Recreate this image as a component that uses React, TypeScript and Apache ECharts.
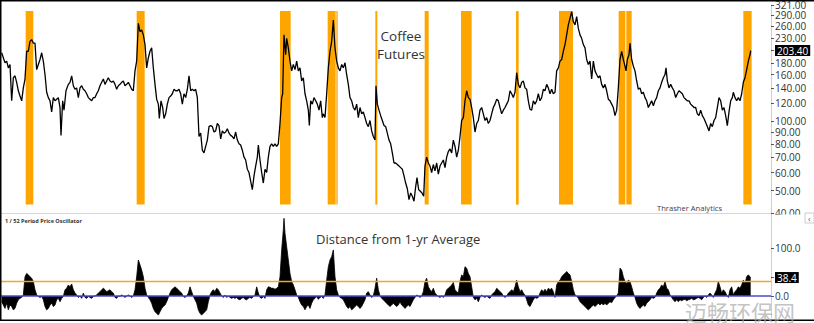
import React, { useEffect, useRef } from 'react';
import * as echarts from 'echarts';

// Coffee futures, weekly index (weeks from chart start) and price
const priceData: [number, number][] = [
  [5,199],[15,180],[20,183],[25,171],[30,177],[35,123],[40,155],[45,158],[50,148],[55,136],[60,129],[65,123],[70,140],[75,153],[80,202],[85,202],[90,223],[95,227],[100,219],[105,219],[110,168],[115,177],[120,186],[125,199],[130,183],[135,160],[140,134],[145,127],[150,123],[155,110],[160,127],[165,123],[170,125],[175,127],[180,115],[183,87],[188,123],[192,112],[198,136],[205,145],[210,148],[215,158],[220,143],[225,138],[230,140],[235,127],[240,140],[245,143],[250,138],[255,136],[260,132],[265,127],[270,125],[275,123],[280,127],[285,127],[290,132],[295,136],[300,143],[305,148],[310,153],[315,145],[320,150],[325,155],[330,150],[335,148],[340,150],[345,145],[350,138],[355,143],[360,145],[365,148],[370,150],[375,143],[380,145],[385,148],[390,143],[395,138],[400,136],[405,166],[410,183],[415,267],[420,246],[425,250],[430,238],[435,216],[440,171],[445,189],[450,202],[455,209],[460,171],[465,145],[470,125],[475,119],[478,103],[483,123],[488,115],[492,103],[497,108],[502,119],[507,127],[512,129],[517,132],[522,138],[527,136],[532,136],[537,138],[542,132],[547,119],[552,132],[557,127],[562,138],[567,158],[572,136],[577,138],[582,136],[587,138],[592,127],[597,86],[602,89],[607,75],[612,73],[617,78],[622,83],[627,95],[632,96],[637,95],[642,90],[647,91],[652,98],[657,96],[662,84],[667,91],[672,89],[677,90],[682,93],[687,89],[692,87],[697,86],[702,84],[707,90],[712,83],[717,80],[722,79],[727,75],[732,70],[737,68],[742,62],[747,60],[752,55],[757,50.5],[762,58],[767,64],[772,70],[775,79],[780,68],[785,60],[790,54],[795,62],[800,60],[805,70],[810,78],[815,80],[820,78],[825,80],[830,78],
  [835,80],[840,98],[845,127],[848,132],[852,238],[857,195],[860,230],[865,209],[870,183],[875,166],[880,177],[885,168],[890,183],[895,166],[900,171],[905,150],[910,155],[915,132],[920,123],[925,112],[928,96],[932,123],[937,119],[942,127],[947,123],[952,119],[957,112],[962,123],[967,104],[970,108],[975,104],[980,132],[985,171],[990,202],[995,223],[1000,276],[1005,209],[1010,183],[1015,171],[1020,166],[1025,177],[1030,171],[1035,180],[1040,160],[1045,145],[1050,127],[1055,123],[1060,115],[1065,112],[1070,119],[1075,104],[1080,115],[1085,108],[1090,110],[1095,104],[1100,98],[1105,95],[1110,101],[1115,91],[1120,86],[1125,83],[1128,143],[1132,119],[1137,112],[1142,106],[1147,101],[1152,96],[1157,95],[1162,89],[1167,83],[1172,80],[1177,73],[1182,66],[1187,66],[1192,65],[1197,64],[1202,63],[1207,62],[1212,58],[1217,54],[1222,51],[1227,45.7],[1232,48.9],[1237,47.3],[1242,45],[1247,52],[1251,57],[1256,50.5],[1261,49.7],[1266,48.9],[1271,47.3],[1275,64],[1280,70],[1285,66],[1290,64],[1295,60],[1300,65],[1305,61],[1310,66],[1315,59],[1320,64],[1325,66],[1330,68],[1335,63],[1340,70],[1345,74],[1350,76],[1355,73],[1360,83],[1365,78],[1370,70],[1375,75],[1380,86],[1385,101],[1390,104],[1395,123],[1400,136],[1405,127],[1410,125],[1415,115],[1420,104],[1425,90],[1430,98],[1435,101],[1440,112],[1445,115],[1450,108],[1455,101],[1460,104],[1465,98],[1470,101],[1475,108],[1480,115],[1485,119],[1490,125],[1495,123],[1500,115],[1505,108],[1510,112],[1515,115],[1520,119],[1525,123],[1530,136],[1535,132],[1540,127],[1545,134],[1550,163],[1555,145],[1560,140],[1565,148],[1570,150],[1575,140],[1580,138],[1585,123],[1590,113],[1595,112],[1600,123],[1605,119],[1610,123],[1615,132],
  [1620,123],[1625,127],[1630,138],[1635,136],[1640,145],[1645,140],[1650,132],[1655,138],[1660,132],[1665,134],[1670,166],[1675,171],[1680,183],[1685,186],[1690,202],[1695,216],[1700,238],[1705,263],[1710,281],[1715,300],[1720,272],[1725,263],[1730,286],[1735,254],[1740,238],[1745,230],[1750,216],[1755,209],[1760,186],[1765,177],[1770,183],[1775,153],[1780,183],[1785,166],[1790,160],[1795,155],[1800,158],[1805,145],[1810,140],[1815,145],[1820,136],[1825,125],[1830,123],[1835,119],[1840,115],[1845,106],[1850,112],[1855,140],[1860,186],[1865,202],[1870,186],[1875,174],[1878,166],[1882,186],[1887,195],[1890,219],[1895,186],[1900,174],[1905,166],[1910,150],[1915,138],[1920,140],[1925,132],[1930,134],[1935,127],[1940,123],[1945,115],[1950,119],[1955,123],[1960,117],[1965,123],[1970,127],[1975,136],[1980,140],[1985,148],[1990,155],[1995,160],[1998,171],[2002,150],[2007,140],[2012,145],[2017,140],[2022,136],[2027,127],[2032,132],[2037,136],[2042,134],[2047,132],[2052,127],[2057,125],[2062,123],[2067,123],[2072,119],[2077,117],[2082,115],[2087,115],[2092,108],[2097,106],[2102,112],[2107,106],[2112,103],[2117,99],[2122,95],[2127,91],[2132,98],[2137,95],[2142,101],[2147,104],[2152,115],[2157,127],[2162,123],[2167,112],[2172,115],[2177,106],[2182,96],[2187,110],[2192,123],[2197,127],[2200,134],[2205,127],[2210,123],[2215,127],[2220,123],[2225,132],[2230,148],[2235,155],[2240,168],[2245,183],[2250,195],[2252,203.4]
];

// 1/52 period price oscillator (% distance from 1-yr average), same weekly index
const oscData: [number, number][] = [
  [5,-12],[10,-19],[15,-26],[20,-15],[25,-29],[30,-19],[35,-22],[40,-29],[45,-26],[50,-15],[55,-8],[60,-5],[65,-3],[70,2],[75,40],[80,47],[85,44],[90,40],[95,37],[100,30],[105,13],[110,2],[115,-1],[120,-3],[125,-1],[130,-8],[135,-22],[140,-29],[145,-26],[150,-19],[155,-15],[160,-22],[165,-19],[170,-8],[175,-5],[180,-12],[185,-5],[190,-1],[195,13],[200,16],[205,23],[210,19],[215,25],[220,13],[225,6],[230,2],[235,-3],[240,0],[245,-5],[250,6],[255,-3],[260,-5],[265,-1],[270,-3],[275,-5],[280,-1],[285,0],[290,2],[295,6],[300,9],[305,13],[310,16],[315,13],[320,9],[325,11],[330,13],[335,9],[340,6],[345,-3],[350,-5],[355,0],[360,-1],[365,2],[370,0],[375,-3],[380,0],[385,2],[390,0],[395,-3],[400,0],[405,13],[410,40],[415,75],[420,65],[425,54],[430,40],[435,16],[440,2],[445,-3],[450,-8],[455,-15],[460,-26],[465,-33],[470,-36],[475,-40],[480,-33],[485,-26],[490,-22],[495,-19],[500,-12],[505,-3],[510,6],[515,13],[520,16],[525,19],[530,16],[535,13],[540,9],[545,6],[550,-1],[555,-3],[560,0],[565,6],[570,19],[575,9],[580,-1],[585,-8],[590,-15],[595,-29],[600,-36],[605,-40],[610,-36],[615,-33],[620,-29],[625,-12],[630,2],[635,9],[640,13],[645,9],[650,16],[655,13],[660,6],[665,0],[670,-3],[675,2],[680,-3],[685,0],[690,-3],[695,-5],[700,-3],[705,-5],[710,-3],[715,-7],[720,-8],[725,-5],[730,-3],[735,-7],[740,-8],[745,-5],[750,-3],[755,-5],[760,-1],[765,2],[770,19],[775,6],[780,-3],[785,-5],[790,-1],[795,-5],[800,13],[805,19],[810,18],[815,16],[820,16],[825,14],[830,16],[835,19],[840,40],[845,96],[850,138],[852,162],[855,131],[860,103],[865,75],[870,47],[875,30],[880,23],[885,13],[890,2],[895,-3],[900,-12],[905,-19],[910,-22],[915,-29],[920,-22],[925,-19],[930,-26],[935,-15],[940,-8],[945,-5],[950,-1],[955,-7],[960,-3],[965,-1],[970,-5],[975,2],[980,33],[985,61],[990,75],[995,82],[1000,96],[1005,40],[1010,13],[1015,2],[1020,-3],[1025,-5],[1030,-8],[1035,-15],[1040,-22],[1045,-26],[1050,-22],[1055,-29],[1060,-26],[1065,-22],[1070,-19],[1075,-22],[1080,-26],[1085,-22],[1090,-15],[1095,-8],[1100,6],[1105,9],[1110,2],[1115,-3],[1120,0],[1125,16],[1130,37],[1135,13],[1140,0],[1145,-5],[1150,-8],[1155,-12],[1160,-15],[1165,-19],[1170,-22],[1175,-19],[1180,-15],[1185,-19],[1190,-22],[1195,-19],
  [1200,-12],[1205,-19],[1210,-22],[1215,-26],[1220,-22],[1225,-19],[1230,-22],[1235,-15],[1240,-8],[1245,-3],[1250,2],[1255,0],[1260,-3],[1265,0],[1270,9],[1275,30],[1280,37],[1285,19],[1290,13],[1295,9],[1300,16],[1305,6],[1310,2],[1315,-1],[1320,-3],[1325,0],[1330,-3],[1335,2],[1340,13],[1345,16],[1350,19],[1355,23],[1360,28],[1365,13],[1370,9],[1375,6],[1380,30],[1385,44],[1390,40],[1395,61],[1400,58],[1405,47],[1410,40],[1415,19],[1420,-3],[1425,-8],[1430,-5],[1435,-12],[1440,-3],[1445,2],[1450,-1],[1455,-3],[1460,0],[1465,-3],[1470,-5],[1475,2],[1480,6],[1485,9],[1490,16],[1495,13],[1500,9],[1505,6],[1510,0],[1515,-3],[1520,0],[1525,6],[1530,9],[1535,13],[1540,9],[1545,19],[1550,33],[1555,19],[1560,9],[1565,13],[1570,6],[1575,2],[1580,-8],[1585,-19],[1590,-22],[1595,-15],[1600,-8],[1605,-3],[1610,-5],[1615,-3],[1620,6],[1625,13],[1630,9],[1635,14],[1640,9],[1645,16],[1650,13],[1655,16],[1660,9],[1665,-3],[1670,23],[1675,30],[1680,33],[1685,40],[1690,44],[1695,47],[1700,51],[1705,47],[1710,44],[1715,30],[1720,13],[1725,2],[1730,0],[1735,-5],[1740,-12],[1745,-15],[1750,-19],[1755,-22],[1760,-26],[1765,-29],[1770,-26],[1775,-22],[1780,-19],[1785,-22],[1790,-19],[1795,-15],[1800,-19],[1805,-15],[1810,-19],[1815,-15],[1820,-19],[1825,-15],[1830,-12],[1835,-14],[1840,-8],[1845,-3],[1850,0],[1855,6],[1860,58],[1865,54],[1870,40],[1875,30],[1880,26],[1885,33],[1890,30],[1895,19],[1900,6],[1905,-3],[1910,-15],[1915,-22],[1920,-26],[1925,-22],[1930,-19],[1935,-22],[1940,-15],[1945,-12],[1950,-8],[1955,-3],[1960,-5],[1965,-3],[1970,6],[1975,13],[1980,16],[1985,23],[1990,19],[1995,30],[2000,16],[2005,13],[2010,2],[2015,-3],[2020,-8],[2025,-12],[2030,-8],[2035,-12],[2040,-8],[2045,-10],[2050,-8],[2055,-7],[2060,-10],[2065,-8],[2070,-7],[2075,-5],[2080,-8],[2085,-7],[2090,-5],[2095,-3],[2100,-5],[2105,-8],[2110,-3],[2115,0],[2120,-3],[2125,2],[2130,6],[2135,2],[2140,-3],[2145,6],[2150,13],[2155,30],[2160,19],[2165,6],[2170,13],[2175,9],[2180,2],[2185,-3],[2190,13],[2195,19],[2200,2],[2205,9],[2210,13],[2215,19],[2220,16],[2225,23],[2230,33],[2235,26],[2240,40],[2245,44],[2250,40],[2252,38.4]
];

// Orange signal bands (start week, end week) where oscillator is above threshold
const bandRanges: [number, number][] = [
  [77,100],[410,434],[840,872],[983,1007],[1009,1013],[1126,1132],[1274,1286],[1383,1415],[1548,1556],[1677,1719],[1856,1876],[1879,1895],[2230,2255]
];

const priceTicks = [40, 50, 60, 70, 80, 90, 100, 120, 140, 160, 180, 203.4, 230, 260, 290, 321];
const lastPrice = 203.4;
const oscTicks = [0, 38.4, 100];
const lastOsc = 38.4;
const oscThreshold = 30;
const bandTop = 302;
const bandBottom = 43.5;

const FONT = '"Open Sans", "Noto Sans", sans-serif';

export default function App() {
  const ref = useRef<HTMLDivElement>(null);
  useEffect(() => {
    if (!ref.current) return;
    const chart = echarts.init(ref.current, undefined, { renderer: 'svg' });
    const axisLabelBase = {
      fontSize: 10,
      color: '#333',
      fontFamily: FONT,
      margin: 4,
    };
    chart.setOption({
      animation: false,
      backgroundColor: '#fff',
      textStyle: { fontFamily: FONT },
      grid: [
        { left: 1, right: 43, top: 3, height: 210 },
        { left: 1, right: 43, top: 214, height: 104 },
      ],
      xAxis: [
        { type: 'value', gridIndex: 0, min: 3, max: 2313, show: false },
        { type: 'value', gridIndex: 1, min: 3, max: 2313, show: false },
      ],
      yAxis: [
        {
          type: 'log',
          logBase: 10,
          gridIndex: 0,
          position: 'right',
          min: 40,
          max: 321,
          splitLine: { show: false },
          axisLine: { show: true, lineStyle: { color: '#cfcfcf', width: 1 } },
          axisTick: { show: true, length: 3, customValues: priceTicks, lineStyle: { color: '#555' } },
          axisLabel: {
            ...axisLabelBase,
            customValues: priceTicks,
            formatter: (v: number) =>
              Math.abs(v - lastPrice) < 0.01 ? '{hl|' + v.toFixed(2) + '}' : v.toFixed(2),
            rich: {
              hl: { backgroundColor: '#000', color: '#fff', fontSize: 10, fontFamily: FONT, padding: [1, 2, 0, 2], lineHeight: 11 },
            },
          },
        },
        {
          type: 'value',
          gridIndex: 1,
          position: 'right',
          min: -46,
          max: 171,
          splitLine: { show: false },
          axisLine: { show: true, lineStyle: { color: '#cfcfcf', width: 1 } },
          axisTick: { show: true, length: 3, customValues: oscTicks, lineStyle: { color: '#555' } },
          axisLabel: {
            ...axisLabelBase,
            customValues: oscTicks,
            formatter: (v: number) =>
              Math.abs(v - lastOsc) < 0.01 ? '{hl|' + v.toFixed(1) + '}' : v.toFixed(1),
            rich: {
              hl: { backgroundColor: '#000', color: '#fff', fontSize: 10, fontFamily: FONT, padding: [1, 2, 0, 2], lineHeight: 11 },
            },
          },
        },
      ],
      series: [
        {
          type: 'line',
          name: 'Coffee Futures',
          xAxisIndex: 0,
          yAxisIndex: 0,
          data: priceData,
          showSymbol: false,
          lineStyle: { color: '#000', width: 1.3 },
          z: 3,
          markArea: {
            silent: true,
            itemStyle: { color: '#ffa500', opacity: 1 },
            data: bandRanges.map(([s, e]) => [
              { xAxis: s, yAxis: bandTop },
              { xAxis: e, yAxis: bandBottom },
            ]),
          },
        },
        {
          type: 'line',
          name: 'Oscillator',
          xAxisIndex: 1,
          yAxisIndex: 1,
          data: oscData,
          showSymbol: false,
          lineStyle: { color: '#000', width: 0.8 },
          areaStyle: { color: '#000', opacity: 1, origin: 'auto' },
          markLine: {
            silent: true,
            symbol: 'none',
            label: { show: false },
            lineStyle: { color: '#f5a623', width: 1.4, type: 'solid', opacity: 1 },
            data: [
              { yAxis: oscThreshold, lineStyle: { color: '#f5a623', width: 1.4, type: 'solid', opacity: 1 } },
              { yAxis: 0, lineStyle: { color: '#4b4bc8', width: 1.5, type: 'solid', opacity: 1 } },
            ],
          },
        },
      ],
      graphic: [
        { type: 'line', shape: { x1: 0, y1: 213.5, x2: 771, y2: 213.5 }, style: { stroke: '#d6d6d6', lineWidth: 1 }, z: 50 },
        { type: 'rect', shape: { x: 772, y: 214.5, width: 42, height: 8 }, style: { fill: '#fff' }, z: 60 },
        { type: 'rect', shape: { x: 805, y: 213, width: 9, height: 10 }, style: { fill: '#fff', stroke: '#ccc', lineWidth: 1 }, z: 61 },
        { type: 'text', x: 808, y: 218, style: { text: '‹', fontSize: 9, fill: '#666', verticalAlign: 'middle', fontFamily: FONT }, z: 62 },
        { type: 'line', shape: { x1: 0, y1: 0.75, x2: 814, y2: 0.75 }, style: { stroke: '#000', lineWidth: 1.5 }, z: 100 },
        { type: 'line', shape: { x1: 0.75, y1: 0, x2: 0.75, y2: 321 }, style: { stroke: '#000', lineWidth: 1.5 }, z: 100 },
        { type: 'line', shape: { x1: 0, y1: 320.25, x2: 814, y2: 320.25 }, style: { stroke: '#000', lineWidth: 1.5 }, z: 100 },
        {
          type: 'text', x: 401, y: 27, z: 70,
          style: { text: 'Coffee\nFutures', fontSize: 13.5, lineHeight: 18, fill: '#333', align: 'center', fontFamily: FONT },
        },
        {
          type: 'text', x: 657, y: 204, z: 70,
          style: { text: 'Thrasher Analytics', fontSize: 7.6, fill: '#3d3d55', fontFamily: FONT },
        },
        {
          type: 'text', x: 5, y: 217.5, z: 70,
          style: { text: '1 / 52 Period Price Oscillator', fontSize: 5.5, fill: '#333', fontWeight: 'bold', fontFamily: FONT },
        },
        {
          type: 'text', x: 316, y: 232, z: 70,
          style: { text: 'Distance from 1-yr Average', fontSize: 13, fill: '#333', fontFamily: FONT },
        },
        {
          type: 'text', x: 685, y: 300, z: 120,
          style: { text: '迈畅环保网', fontSize: 22, fill: 'rgba(170,170,170,0.7)', fontFamily: '"Noto Sans CJK SC", sans-serif' },
        },
      ],
    });
    return () => chart.dispose();
  }, []);
  return (
    <div
      ref={ref}
      style={{ position: 'fixed', left: 0, top: 0, width: 814, height: 323 }}
    />
  );
}
